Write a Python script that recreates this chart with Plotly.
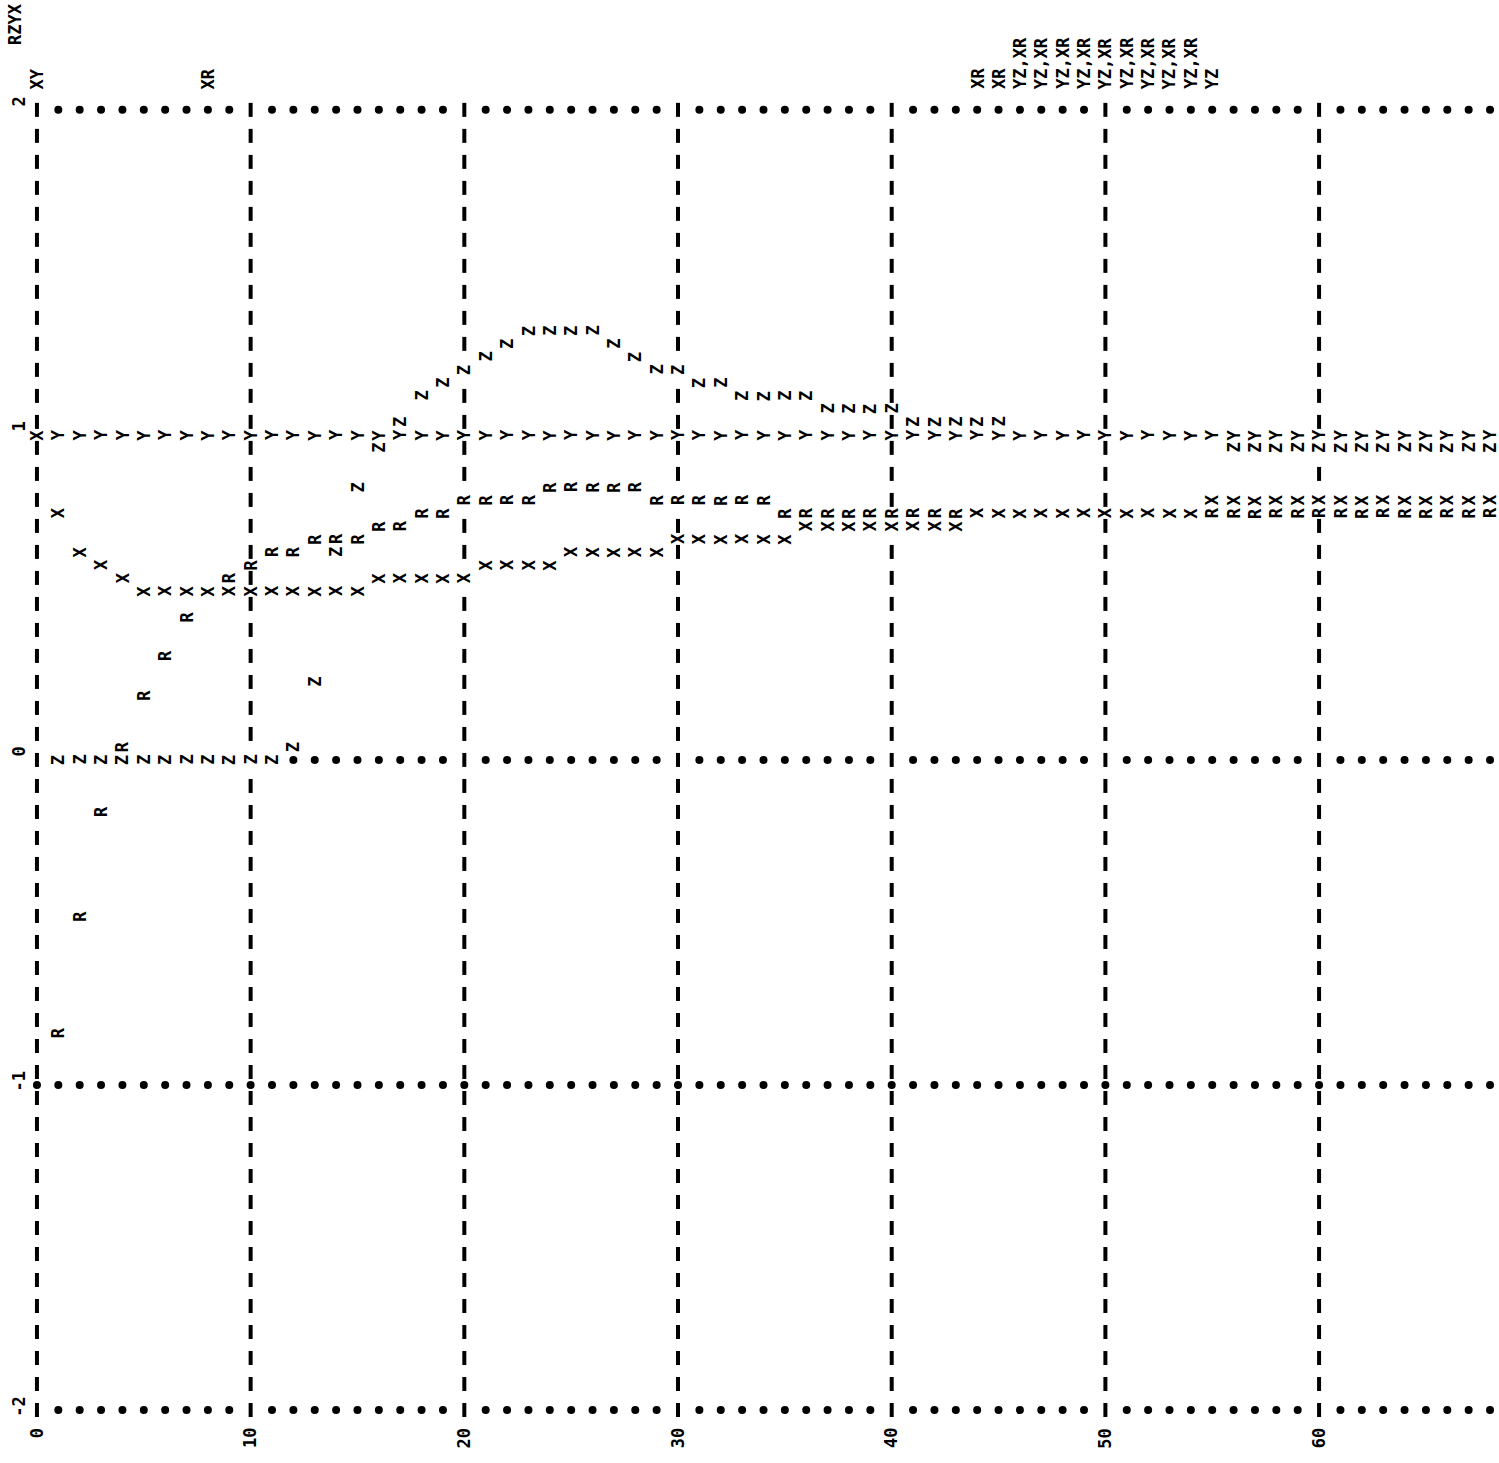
import plotly.graph_objects as go

# ---------------- data ----------------
x_vals = list(range(0, 69))

X_vals = [1.00, 0.76, 0.64, 0.60, 0.56,
          0.52, 0.52, 0.52, 0.52, 0.52, 0.52, 0.52, 0.52, 0.52, 0.52, 0.52,
          0.56, 0.56, 0.56, 0.56, 0.56,
          0.60, 0.60, 0.60, 0.60,
          0.64, 0.64, 0.64, 0.64, 0.64,
          0.68, 0.68, 0.68, 0.68, 0.68, 0.68,
          0.72, 0.72, 0.72, 0.72, 0.72, 0.72, 0.72, 0.72,
          0.76, 0.76, 0.76, 0.76, 0.76, 0.76, 0.76, 0.76, 0.76, 0.76, 0.76,
          0.80, 0.80, 0.80, 0.80, 0.80, 0.80, 0.80, 0.80, 0.80, 0.80, 0.80, 0.80, 0.80, 0.80]

Y_vals = [1.00, 1.00, 1.00, 1.00, 1.00, 1.00, 1.00, 1.00, 1.00, 1.00,
          1.00, 1.00, 1.00, 1.00, 1.00, 1.00, 1.00, 1.00, 1.00, 1.00,
          1.00, 1.00, 1.00, 1.00, 1.00, 1.00, 1.00, 1.00, 1.00, 1.00,
          1.00, 1.00, 1.00, 1.00, 1.00, 1.00, 1.00, 1.00, 1.00, 1.00,
          1.00, 1.00, 1.00, 1.00, 1.00, 1.00, 1.00, 1.00, 1.00, 1.00,
          1.00, 1.00, 1.00, 1.00, 1.00, 1.00, 1.00, 1.00, 1.00, 1.00,
          1.00, 1.00, 1.00, 1.00, 1.00, 1.00, 1.00, 1.00, 1.00]

Z_vals = [None,
          0.00, 0.00, 0.00, 0.00, 0.00, 0.00, 0.00, 0.00, 0.00, 0.00, 0.00,
          0.04, 0.24, 0.64, 0.84, 0.96, 1.04, 1.12, 1.16, 1.20, 1.24, 1.28,
          1.32, 1.32, 1.32, 1.32,
          1.28, 1.24,
          1.20, 1.20,
          1.16, 1.16,
          1.12, 1.12, 1.12, 1.12,
          1.08, 1.08, 1.08, 1.08,
          1.04, 1.04, 1.04, 1.04, 1.04,
          1.00, 1.00, 1.00, 1.00, 1.00, 1.00, 1.00, 1.00, 1.00, 1.00,
          0.96, 0.96, 0.96, 0.96, 0.96, 0.96, 0.96, 0.96, 0.96, 0.96, 0.96, 0.96, 0.96]

R_vals = [None,
          -0.84, -0.48, -0.16, 0.04, 0.20, 0.32, 0.44, 0.52, 0.56, 0.60,
          0.64, 0.64, 0.68, 0.68, 0.68, 0.72, 0.72, 0.76, 0.76,
          0.80, 0.80, 0.80, 0.80,
          0.84, 0.84, 0.84, 0.84, 0.84,
          0.80, 0.80, 0.80, 0.80, 0.80, 0.80,
          0.76, 0.76, 0.76, 0.76, 0.76, 0.76, 0.76, 0.76, 0.76, 0.76,
          0.76, 0.76, 0.76, 0.76, 0.76, 0.76, 0.76, 0.76, 0.76, 0.76,
          0.76, 0.76, 0.76, 0.76, 0.76, 0.76, 0.76, 0.76, 0.76, 0.76,
          0.76, 0.76, 0.76, 0.76]

series_letters = ["X", "Y", "Z", "R"]          # print priority order
series_values = [X_vals, Y_vals, Z_vals, R_vals]

x_ticks = [0, 10, 20, 30, 40, 50, 60]
x_tick_labels = ["0", "10", "20", "30", "40", "50", "60"]
y_ticks = [-2, -1, 0, 1, 2]
y_tick_labels = ["-2", "-1", "0", "1", "2"]
legend_label = "RZYX"
row_step = 0.08                                 # spacing of the '!' marks

# ---------------- layout constants ----------------
X_RANGE = [-1.729, 68.42]
Y_RANGE = [-2.163, 2.338]
FONT = dict(family="DejaVu Sans Mono", size=17, color="black", weight="bold")

fig = go.Figure()

# which letters land on which printer cell
cells = {}
for letter, vals in zip(series_letters, series_values):
    for xi, v in zip(x_vals, vals):
        if v is None:
            continue
        cells.setdefault((xi, round(v, 2)), []).append(letter)

# invisible data traces (for hover / semantics)
for letter, vals in zip(series_letters, series_values):
    fig.add_trace(go.Scatter(x=x_vals, y=vals, mode="markers", name=letter,
                             marker=dict(opacity=0), showlegend=False,
                             hoverinfo="x+y+name"))

# vertical grid: columns of short '!' marks
n_marks = int(round(2 / row_step))
vx, vy = [], []
for c in x_ticks:
    for k in range(-n_marks, n_marks + 1):
        yv = round(k * row_step, 2)
        if (c, yv) in cells:
            continue
        vx.append(c)
        vy.append(yv)
fig.add_trace(go.Scatter(x=vx, y=vy, mode="markers", showlegend=False, hoverinfo="skip",
                         marker=dict(symbol="line-ns", size=10,
                                     line=dict(width=4, color="black"), color="black")))

# horizontal grid: rows of dots
hx, hy = [], []
for r in y_ticks:
    on_mark = abs(r / row_step - round(r / row_step)) < 1e-6
    for xi in x_vals:
        if (xi, round(r, 2)) in cells:
            continue
        if xi in x_ticks and on_mark:
            continue
        hx.append(xi)
        hy.append(r)
fig.add_trace(go.Scatter(x=hx, y=hy, mode="markers", showlegend=False, hoverinfo="skip",
                         marker=dict(symbol="circle", size=8, color="black")))

annotations = []

# plotted letters (one per printer cell, highest priority wins)
for (xi, yv), letters in cells.items():
    annotations.append(dict(x=xi, y=yv, text=letters[0], showarrow=False,
                            textangle=-90, xanchor="center", yanchor="middle",
                            font=FONT))

# overprint list above the top row
for xi in x_vals:
    groups = [(yv, lts) for (cx, yv), lts in cells.items() if cx == xi and len(lts) > 1]
    if not groups:
        continue
    groups.sort(key=lambda g: -g[0])
    txt = ",".join("".join(l) for _, l in groups)
    annotations.append(dict(x=xi, y=2.058, text=txt, showarrow=False,
                            textangle=-90, xanchor="center", yanchor="bottom",
                            font=FONT))

# axis labels
for xv, lab in zip(x_ticks, x_tick_labels):
    annotations.append(dict(x=xv, y=-2.05, text=lab, showarrow=False,
                            textangle=-90, xanchor="center", yanchor="top", font=FONT))
for yv, lab in zip(y_ticks, y_tick_labels):
    annotations.append(dict(x=-0.86, y=yv + 0.046, text=lab, showarrow=False,
                            textangle=-90, xanchor="center", yanchor="top", font=FONT))
annotations.append(dict(x=-1.03, y=2.335, text=legend_label, showarrow=False,
                        textangle=-90, xanchor="center", yanchor="top", font=FONT))

fig.update_layout(
    width=1499, height=1463, autosize=False,
    margin=dict(l=0, r=0, t=0, b=0, pad=0),
    paper_bgcolor="white", plot_bgcolor="white",
    showlegend=False,
    annotations=annotations,
    xaxis=dict(range=X_RANGE, visible=False, showgrid=False, zeroline=False, fixedrange=True),
    yaxis=dict(range=Y_RANGE, visible=False, showgrid=False, zeroline=False, fixedrange=True),
)

fig.write_html("out.html", include_plotlyjs=True, config={"displayModeBar": False})
